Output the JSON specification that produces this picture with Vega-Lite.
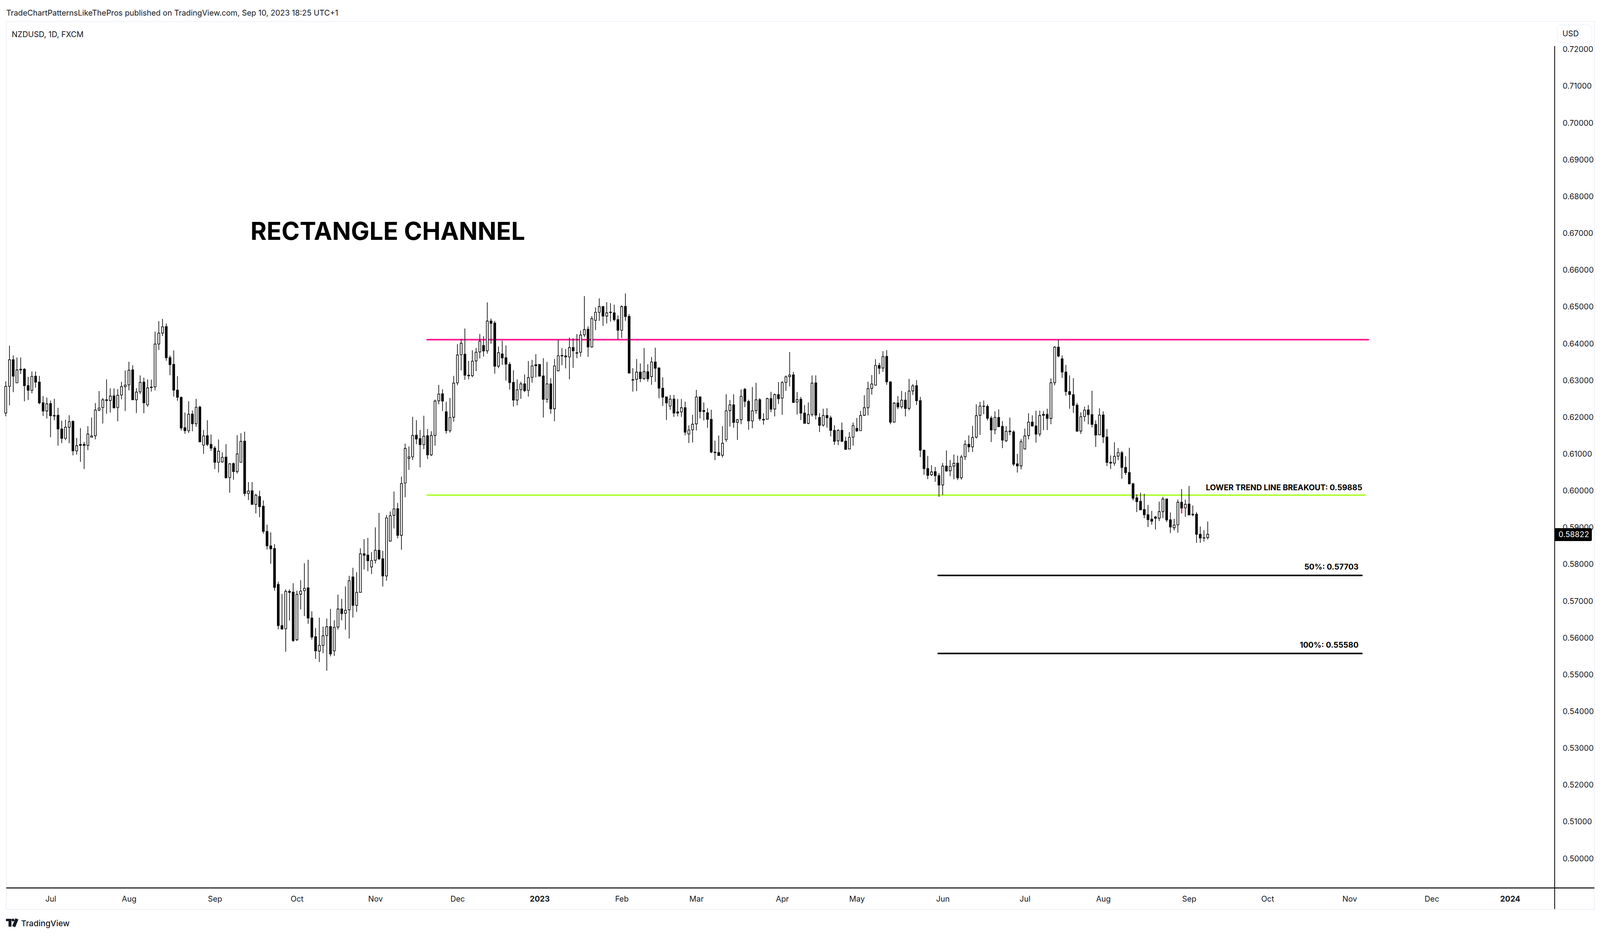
{
"$schema":"https://vega.github.io/schema/vega-lite/v6.json",
"width":"container","height":2218,
"autosize":{"type":"fit-x","contains":"padding"},
"padding":{"left":11,"top":24,"right":9,"bottom":13},
"background":"#ffffff",
"config":{"view":{"stroke":null},"font":"Inter"},
"datasets":{
"candles":[
{"bar":-1,"open":0.62118,"high":0.62978,"low":0.6203,"close":0.62843},
{"bar":0,"open":0.62843,"high":0.63947,"low":0.62328,"close":0.63567},
{"bar":1,"open":0.63567,"high":0.63683,"low":0.62687,"close":0.6312},
{"bar":2,"open":0.62938,"high":0.63628,"low":0.62938,"close":0.6329},
{"bar":3,"open":0.6329,"high":0.63628,"low":0.63181,"close":0.6331},
{"bar":4,"open":0.6331,"high":0.63337,"low":0.62436,"close":0.62863},
{"bar":5,"open":0.62863,"high":0.631,"low":0.6247,"close":0.62734},
{"bar":6,"open":0.62734,"high":0.63249,"low":0.62653,"close":0.63114},
{"bar":7,"open":0.6312,"high":0.63249,"low":0.62809,"close":0.62958},
{"bar":8,"open":0.62958,"high":0.63127,"low":0.62355,"close":0.62396},
{"bar":9,"open":0.62396,"high":0.62579,"low":0.62037,"close":0.62172},
{"bar":10,"open":0.62172,"high":0.62538,"low":0.61969,"close":0.62368},
{"bar":11,"open":0.62375,"high":0.62457,"low":0.6146,"close":0.62043},
{"bar":12,"open":0.6205,"high":0.62504,"low":0.61921,"close":0.62037},
{"bar":13,"open":0.62057,"high":0.6226,"low":0.6123,"close":0.61684},
{"bar":14,"open":0.61684,"high":0.61908,"low":0.61298,"close":0.61427},
{"bar":15,"open":0.61427,"high":0.61935,"low":0.6138,"close":0.61732},
{"bar":16,"open":0.61732,"high":0.62057,"low":0.61298,"close":0.61881},
{"bar":17,"open":0.61888,"high":0.61921,"low":0.60966,"close":0.61088},
{"bar":18,"open":0.61088,"high":0.6144,"low":0.60987,"close":0.6123},
{"bar":19,"open":0.61264,"high":0.61705,"low":0.6079,"close":0.61237},
{"bar":20,"open":0.61264,"high":0.61332,"low":0.60594,"close":0.61237},
{"bar":21,"open":0.61237,"high":0.61759,"low":0.61109,"close":0.61549},
{"bar":22,"open":0.6146,"high":0.61996,"low":0.6146,"close":0.61495},
{"bar":23,"open":0.61501,"high":0.62389,"low":0.614,"close":0.62199},
{"bar":24,"open":0.62199,"high":0.62714,"low":0.62165,"close":0.62253},
{"bar":25,"open":0.62267,"high":0.62524,"low":0.61833,"close":0.62477},
{"bar":26,"open":0.62477,"high":0.63032,"low":0.62098,"close":0.62457},
{"bar":27,"open":0.62457,"high":0.62788,"low":0.62131,"close":0.62579},
{"bar":28,"open":0.62585,"high":0.62788,"low":0.6224,"close":0.6226},
{"bar":29,"open":0.62267,"high":0.62768,"low":0.61894,"close":0.62599},
{"bar":30,"open":0.62606,"high":0.62965,"low":0.6249,"close":0.62836},
{"bar":31,"open":0.62836,"high":0.63276,"low":0.62172,"close":0.62877},
{"bar":32,"open":0.62883,"high":0.63513,"low":0.62734,"close":0.63283},
{"bar":33,"open":0.6329,"high":0.63418,"low":0.62477,"close":0.62477},
{"bar":34,"open":0.62477,"high":0.62795,"low":0.62118,"close":0.62687},
{"bar":35,"open":0.62694,"high":0.6314,"low":0.62633,"close":0.62951},
{"bar":36,"open":0.62958,"high":0.6308,"low":0.62111,"close":0.62396},
{"bar":37,"open":0.62341,"high":0.63032,"low":0.62287,"close":0.62802},
{"bar":38,"open":0.62822,"high":0.63026,"low":0.627,"close":0.62809},
{"bar":39,"open":0.62829,"high":0.64333,"low":0.62734,"close":0.63994},
{"bar":40,"open":0.63994,"high":0.64618,"low":0.63832,"close":0.64292},
{"bar":41,"open":0.64292,"high":0.64678,"low":0.64211,"close":0.64462},
{"bar":42,"open":0.64468,"high":0.6455,"low":0.6354,"close":0.63622},
{"bar":43,"open":0.63622,"high":0.63683,"low":0.63147,"close":0.63432},
{"bar":44,"open":0.63439,"high":0.63818,"low":0.62565,"close":0.62741},
{"bar":45,"open":0.62741,"high":0.6312,"low":0.6245,"close":0.62545},
{"bar":46,"open":0.62545,"high":0.62565,"low":0.61644,"close":0.61711},
{"bar":47,"open":0.61718,"high":0.62131,"low":0.61556,"close":0.61637},
{"bar":48,"open":0.61637,"high":0.62436,"low":0.61576,"close":0.62084},
{"bar":49,"open":0.62091,"high":0.62186,"low":0.61623,"close":0.61827},
{"bar":50,"open":0.61827,"high":0.62504,"low":0.61745,"close":0.62274},
{"bar":51,"open":0.6228,"high":0.62314,"low":0.61332,"close":0.61332},
{"bar":52,"open":0.61244,"high":0.61657,"low":0.61007,"close":0.61495},
{"bar":53,"open":0.61501,"high":0.61921,"low":0.61217,"close":0.61264},
{"bar":54,"open":0.61264,"high":0.61535,"low":0.61088,"close":0.61163},
{"bar":55,"open":0.61163,"high":0.61217,"low":0.60594,"close":0.60777},
{"bar":56,"open":0.60777,"high":0.614,"low":0.60499,"close":0.61081},
{"bar":57,"open":0.6079,"high":0.61047,"low":0.60763,"close":0.60912},
{"bar":58,"open":0.60919,"high":0.61271,"low":0.60336,"close":0.60357},
{"bar":59,"open":0.60363,"high":0.60756,"low":0.5995,"close":0.60736},
{"bar":60,"open":0.60743,"high":0.6077,"low":0.60303,"close":0.60526},
{"bar":61,"open":0.60526,"high":0.61515,"low":0.60472,"close":0.61007},
{"bar":62,"open":0.60777,"high":0.61569,"low":0.60777,"close":0.61346},
{"bar":63,"open":0.61352,"high":0.6161,"low":0.59855,"close":0.5993},
{"bar":64,"open":0.5993,"high":0.60241,"low":0.59754,"close":0.59998},
{"bar":65,"open":0.60004,"high":0.60241,"low":0.59632,"close":0.59632},
{"bar":66,"open":0.59632,"high":0.59923,"low":0.59388,"close":0.59882},
{"bar":67,"open":0.59848,"high":0.60004,"low":0.59286,"close":0.59571},
{"bar":68,"open":0.59584,"high":0.5974,"low":0.58839,"close":0.589},
{"bar":69,"open":0.589,"high":0.59083,"low":0.58406,"close":0.58507},
{"bar":70,"open":0.58507,"high":0.58873,"low":0.5802,"close":0.58426},
{"bar":71,"open":0.58433,"high":0.58555,"low":0.57288,"close":0.57376},
{"bar":72,"open":0.57457,"high":0.57532,"low":0.56238,"close":0.56339},
{"bar":73,"open":0.56339,"high":0.572,"low":0.56224,"close":0.56245},
{"bar":74,"open":0.56252,"high":0.57322,"low":0.55628,"close":0.57268},
{"bar":75,"open":0.57268,"high":0.57322,"low":0.56475,"close":0.57241},
{"bar":76,"open":0.57247,"high":0.57491,"low":0.55893,"close":0.55933},
{"bar":77,"open":0.55954,"high":0.57288,"low":0.5592,"close":0.57186},
{"bar":78,"open":0.57193,"high":0.57572,"low":0.5678,"close":0.57275},
{"bar":79,"open":0.57288,"high":0.58033,"low":0.56597,"close":0.57349},
{"bar":80,"open":0.57363,"high":0.58128,"low":0.56387,"close":0.56543},
{"bar":81,"open":0.56543,"high":0.56726,"low":0.5596,"close":0.56028},
{"bar":82,"open":0.56035,"high":0.56272,"low":0.55432,"close":0.55649},
{"bar":83,"open":0.55645,"high":0.56555,"low":0.55348,"close":0.55801},
{"bar":84,"open":0.55798,"high":0.56311,"low":0.55589,"close":0.56062},
{"bar":85,"open":0.56069,"high":0.56529,"low":0.55111,"close":0.56306},
{"bar":86,"open":0.56313,"high":0.5679,"low":0.555,"close":0.55567},
{"bar":87,"open":0.55649,"high":0.56482,"low":0.55513,"close":0.56292},
{"bar":88,"open":0.56299,"high":0.5718,"low":0.56231,"close":0.5679},
{"bar":89,"open":0.5679,"high":0.57064,"low":0.56482,"close":0.56665},
{"bar":90,"open":0.56672,"high":0.57403,"low":0.56224,"close":0.56753},
{"bar":91,"open":0.56766,"high":0.57694,"low":0.55987,"close":0.57559},
{"bar":92,"open":0.57661,"high":0.57911,"low":0.56557,"close":0.56888},
{"bar":93,"open":0.56888,"high":0.57789,"low":0.56712,"close":0.57241},
{"bar":94,"open":0.57241,"high":0.5844,"low":0.57241,"close":0.58291},
{"bar":95,"open":0.58291,"high":0.5869,"low":0.57864,"close":0.5825},
{"bar":96,"open":0.58257,"high":0.58724,"low":0.57816,"close":0.58101},
{"bar":97,"open":0.57932,"high":0.58338,"low":0.57742,"close":0.58108},
{"bar":98,"open":0.58115,"high":0.59009,"low":0.58026,"close":0.58385},
{"bar":99,"open":0.58385,"high":0.59402,"low":0.58121,"close":0.58155},
{"bar":100,"open":0.58155,"high":0.58372,"low":0.57403,"close":0.57688},
{"bar":101,"open":0.57688,"high":0.59347,"low":0.57559,"close":0.59266},
{"bar":102,"open":0.58636,"high":0.59442,"low":0.58622,"close":0.59327},
{"bar":103,"open":0.59334,"high":0.59984,"low":0.58981,"close":0.5951},
{"bar":104,"open":0.59517,"high":0.59672,"low":0.58711,"close":0.58792},
{"bar":105,"open":0.58792,"high":0.6039,"low":0.58399,"close":0.60201},
{"bar":106,"open":0.60214,"high":0.61285,"low":0.59828,"close":0.61156},
{"bar":107,"open":0.60885,"high":0.6121,"low":0.60573,"close":0.60926},
{"bar":108,"open":0.60926,"high":0.62016,"low":0.60838,"close":0.61508},
{"bar":109,"open":0.61515,"high":0.61921,"low":0.61271,"close":0.61413},
{"bar":110,"open":0.6142,"high":0.61657,"low":0.60641,"close":0.61258},
{"bar":111,"open":0.61258,"high":0.62043,"low":0.61136,"close":0.61488},
{"bar":112,"open":0.61501,"high":0.61684,"low":0.60865,"close":0.6098},
{"bar":113,"open":0.6098,"high":0.61623,"low":0.60946,"close":0.61508},
{"bar":114,"open":0.61508,"high":0.62484,"low":0.6123,"close":0.62443},
{"bar":115,"open":0.6245,"high":0.62883,"low":0.62355,"close":0.62633},
{"bar":116,"open":0.62639,"high":0.62761,"low":0.62172,"close":0.62443},
{"bar":117,"open":0.62152,"high":0.62423,"low":0.61556,"close":0.61637},
{"bar":118,"open":0.61637,"high":0.62524,"low":0.61583,"close":0.61996},
{"bar":119,"open":0.62003,"high":0.63127,"low":0.61881,"close":0.62931},
{"bar":120,"open":0.62938,"high":0.63987,"low":0.6287,"close":0.63696},
{"bar":121,"open":0.63703,"high":0.6413,"low":0.63276,"close":0.64015},
{"bar":122,"open":0.63717,"high":0.64414,"low":0.63019,"close":0.63147},
{"bar":123,"open":0.63147,"high":0.63534,"low":0.63032,"close":0.63127},
{"bar":124,"open":0.63134,"high":0.63825,"low":0.63093,"close":0.63527},
{"bar":125,"open":0.63534,"high":0.63886,"low":0.63256,"close":0.63771},
{"bar":126,"open":0.63778,"high":0.64265,"low":0.63601,"close":0.64069},
{"bar":127,"open":0.63954,"high":0.64204,"low":0.63649,"close":0.63805},
{"bar":128,"open":0.63811,"high":0.65126,"low":0.6373,"close":0.64618},
{"bar":129,"open":0.64618,"high":0.64685,"low":0.64001,"close":0.64557},
{"bar":130,"open":0.64563,"high":0.64624,"low":0.63188,"close":0.63391},
{"bar":131,"open":0.63391,"high":0.63927,"low":0.63337,"close":0.63757},
{"bar":132,"open":0.63723,"high":0.64082,"low":0.63425,"close":0.63615},
{"bar":133,"open":0.63622,"high":0.63954,"low":0.62998,"close":0.63445},
{"bar":134,"open":0.63439,"high":0.635,"low":0.62755,"close":0.62944},
{"bar":135,"open":0.62951,"high":0.63283,"low":0.62294,"close":0.6247},
{"bar":136,"open":0.6247,"high":0.63032,"low":0.62328,"close":0.62748},
{"bar":137,"open":0.62755,"high":0.62971,"low":0.62504,"close":0.6291},
{"bar":138,"open":0.6291,"high":0.63168,"low":0.62687,"close":0.62727},
{"bar":139,"open":0.62734,"high":0.63534,"low":0.62565,"close":0.6308},
{"bar":140,"open":0.63087,"high":0.63561,"low":0.62944,"close":0.63398},
{"bar":141,"open":0.63432,"high":0.63717,"low":0.63087,"close":0.63405},
{"bar":142,"open":0.63439,"high":0.63439,"low":0.63107,"close":0.6312},
{"bar":143,"open":0.63127,"high":0.63608,"low":0.61996,"close":0.6249},
{"bar":144,"open":0.6249,"high":0.63507,"low":0.62396,"close":0.6291},
{"bar":145,"open":0.6291,"high":0.63066,"low":0.62098,"close":0.62233},
{"bar":146,"open":0.62233,"high":0.63588,"low":0.61894,"close":0.63398},
{"bar":147,"open":0.63263,"high":0.64103,"low":0.63263,"close":0.63676},
{"bar":148,"open":0.63683,"high":0.63886,"low":0.63418,"close":0.6367},
{"bar":149,"open":0.6367,"high":0.63859,"low":0.6333,"close":0.63642},
{"bar":150,"open":0.63642,"high":0.6417,"low":0.63032,"close":0.63899},
{"bar":151,"open":0.63899,"high":0.6415,"low":0.63344,"close":0.63811},
{"bar":152,"open":0.63757,"high":0.64265,"low":0.63608,"close":0.63744},
{"bar":153,"open":0.63771,"high":0.6436,"low":0.63649,"close":0.64238},
{"bar":154,"open":0.64245,"high":0.65295,"low":0.64184,"close":0.64387},
{"bar":155,"open":0.64394,"high":0.64475,"low":0.63642,"close":0.63913},
{"bar":156,"open":0.63913,"high":0.64753,"low":0.63893,"close":0.64685},
{"bar":157,"open":0.64638,"high":0.6499,"low":0.64374,"close":0.64855},
{"bar":158,"open":0.64855,"high":0.65234,"low":0.64624,"close":0.6501},
{"bar":159,"open":0.6501,"high":0.65031,"low":0.64489,"close":0.64753},
{"bar":160,"open":0.64753,"high":0.65132,"low":0.6455,"close":0.64841},
{"bar":161,"open":0.64861,"high":0.65105,"low":0.64604,"close":0.64848},
{"bar":162,"open":0.64841,"high":0.65065,"low":0.6461,"close":0.64658},
{"bar":163,"open":0.64658,"high":0.64773,"low":0.64116,"close":0.64367},
{"bar":164,"open":0.64367,"high":0.65044,"low":0.64157,"close":0.6501},
{"bar":165,"open":0.65017,"high":0.65369,"low":0.64624,"close":0.64739},
{"bar":166,"open":0.64746,"high":0.6481,"low":0.63202,"close":0.63202},
{"bar":167,"open":0.63026,"high":0.63337,"low":0.627,"close":0.63012},
{"bar":168,"open":0.63032,"high":0.63588,"low":0.62714,"close":0.63229},
{"bar":169,"open":0.63229,"high":0.63466,"low":0.62958,"close":0.63053},
{"bar":170,"open":0.63053,"high":0.63886,"low":0.63019,"close":0.63242},
{"bar":171,"open":0.6324,"high":0.63444,"low":0.6297,"close":0.63051},
{"bar":172,"open":0.6311,"high":0.63643,"low":0.62885,"close":0.63506},
{"bar":173,"open":0.63506,"high":0.63895,"low":0.62965,"close":0.63335},
{"bar":174,"open":0.6334,"high":0.63364,"low":0.62519,"close":0.62794},
{"bar":175,"open":0.62794,"high":0.63088,"low":0.6231,"close":0.62548},
{"bar":176,"open":0.62557,"high":0.62557,"low":0.61927,"close":0.62391},
{"bar":177,"open":0.62306,"high":0.62609,"low":0.62206,"close":0.62496},
{"bar":178,"open":0.62496,"high":0.62609,"low":0.62012,"close":0.62116},
{"bar":179,"open":0.62149,"high":0.625,"low":0.62026,"close":0.62116},
{"bar":180,"open":0.62149,"high":0.625,"low":0.62012,"close":0.62263},
{"bar":181,"open":0.62263,"high":0.62429,"low":0.6151,"close":0.61595},
{"bar":182,"open":0.61547,"high":0.61784,"low":0.61301,"close":0.61656},
{"bar":183,"open":0.61661,"high":0.62069,"low":0.61315,"close":0.61813},
{"bar":184,"open":0.61822,"high":0.62747,"low":0.61642,"close":0.62553},
{"bar":185,"open":0.62557,"high":0.62557,"low":0.61969,"close":0.62159},
{"bar":186,"open":0.62187,"high":0.62406,"low":0.61917,"close":0.62159},
{"bar":187,"open":0.62126,"high":0.62249,"low":0.61718,"close":0.61946},
{"bar":188,"open":0.61946,"high":0.62206,"low":0.61026,"close":0.61054},
{"bar":189,"open":0.61054,"high":0.61367,"low":0.60836,"close":0.6104},
{"bar":190,"open":0.61045,"high":0.61505,"low":0.6095,"close":0.60964},
{"bar":191,"open":0.60969,"high":0.6176,"low":0.60907,"close":0.61296},
{"bar":192,"open":0.61396,"high":0.62628,"low":0.61334,"close":0.62178},
{"bar":193,"open":0.62183,"high":0.62472,"low":0.61747,"close":0.62339},
{"bar":194,"open":0.62339,"high":0.62628,"low":0.61718,"close":0.6186},
{"bar":195,"open":0.61865,"high":0.61955,"low":0.61386,"close":0.61936},
{"bar":196,"open":0.61936,"high":0.62757,"low":0.61813,"close":0.62572},
{"bar":197,"open":0.62761,"high":0.628,"low":0.62278,"close":0.62434},
{"bar":198,"open":0.62434,"high":0.62481,"low":0.61661,"close":0.61903},
{"bar":199,"open":0.61903,"high":0.62823,"low":0.61704,"close":0.62178},
{"bar":200,"open":0.62183,"high":0.62937,"low":0.62097,"close":0.62477},
{"bar":201,"open":0.62477,"high":0.62524,"low":0.61908,"close":0.61965},
{"bar":202,"open":0.61946,"high":0.62112,"low":0.61803,"close":0.61927},
{"bar":203,"open":0.6195,"high":0.62534,"low":0.61946,"close":0.6251},
{"bar":204,"open":0.6251,"high":0.62695,"low":0.6214,"close":0.62221},
{"bar":205,"open":0.62225,"high":0.62647,"low":0.62026,"close":0.62619},
{"bar":206,"open":0.62619,"high":0.6296,"low":0.62363,"close":0.62505},
{"bar":207,"open":0.62524,"high":0.62989,"low":0.62069,"close":0.62946},
{"bar":208,"open":0.62946,"high":0.63141,"low":0.62723,"close":0.63103},
{"bar":209,"open":0.63107,"high":0.63776,"low":0.62842,"close":0.6315},
{"bar":210,"open":0.63155,"high":0.63235,"low":0.62391,"close":0.62406},
{"bar":211,"open":0.62415,"high":0.6269,"low":0.62078,"close":0.62481},
{"bar":212,"open":0.62491,"high":0.62557,"low":0.61927,"close":0.62116},
{"bar":213,"open":0.62116,"high":0.62335,"low":0.61837,"close":0.61837},
{"bar":214,"open":0.61837,"high":0.62406,"low":0.61813,"close":0.62074},
{"bar":215,"open":0.62078,"high":0.63141,"low":0.62026,"close":0.62932},
{"bar":216,"open":0.62937,"high":0.63141,"low":0.61941,"close":0.62059},
{"bar":217,"open":0.61998,"high":0.62112,"low":0.61599,"close":0.61784},
{"bar":218,"open":0.61789,"high":0.62235,"low":0.61747,"close":0.6205},
{"bar":219,"open":0.6205,"high":0.62249,"low":0.61718,"close":0.61988},
{"bar":220,"open":0.61988,"high":0.62045,"low":0.61481,"close":0.61647},
{"bar":221,"open":0.61647,"high":0.61784,"low":0.61253,"close":0.61348},
{"bar":222,"open":0.61362,"high":0.61675,"low":0.61244,"close":0.61647},
{"bar":223,"open":0.61647,"high":0.6186,"low":0.61329,"close":0.61348},
{"bar":224,"open":0.61353,"high":0.61471,"low":0.61111,"close":0.6113},
{"bar":225,"open":0.61139,"high":0.61599,"low":0.61135,"close":0.61457},
{"bar":226,"open":0.61462,"high":0.6186,"low":0.6123,"close":0.61775},
{"bar":227,"open":0.617,"high":0.61984,"low":0.61599,"close":0.61633},
{"bar":228,"open":0.61637,"high":0.62173,"low":0.61628,"close":0.6205},
{"bar":229,"open":0.62055,"high":0.626,"low":0.6204,"close":0.62263},
{"bar":230,"open":0.62263,"high":0.6297,"low":0.62055,"close":0.6278},
{"bar":231,"open":0.62785,"high":0.6315,"low":0.62619,"close":0.62908},
{"bar":232,"open":0.62875,"high":0.63582,"low":0.6287,"close":0.63411},
{"bar":233,"open":0.63411,"high":0.63482,"low":0.63174,"close":0.63335},
{"bar":234,"open":0.6334,"high":0.638,"low":0.63235,"close":0.63653},
{"bar":235,"open":0.63658,"high":0.63828,"low":0.62885,"close":0.62965},
{"bar":236,"open":0.62965,"high":0.62984,"low":0.61813,"close":0.6187},
{"bar":237,"open":0.6187,"high":0.62415,"low":0.6186,"close":0.62387},
{"bar":238,"open":0.62391,"high":0.62581,"low":0.62225,"close":0.62282},
{"bar":239,"open":0.62287,"high":0.62719,"low":0.62235,"close":0.62467},
{"bar":240,"open":0.62467,"high":0.62685,"low":0.62026,"close":0.6224},
{"bar":241,"open":0.62244,"high":0.63046,"low":0.62192,"close":0.62714},
{"bar":242,"open":0.62719,"high":0.62904,"low":0.62609,"close":0.62856},
{"bar":243,"open":0.62861,"high":0.63013,"low":0.62335,"close":0.62453},
{"bar":244,"open":0.62453,"high":0.62557,"low":0.6092,"close":0.61106},
{"bar":245,"open":0.61106,"high":0.61125,"low":0.60438,"close":0.60604},
{"bar":246,"open":0.60608,"high":0.6095,"low":0.60319,"close":0.60423},
{"bar":247,"open":0.60438,"high":0.60699,"low":0.60405,"close":0.60518},
{"bar":248,"open":0.60523,"high":0.60651,"low":0.60248,"close":0.60414},
{"bar":249,"open":0.60414,"high":0.60485,"low":0.5984,"close":0.60158},
{"bar":250,"open":0.60163,"high":0.6076,"low":0.59888,"close":0.60675},
{"bar":251,"open":0.60675,"high":0.61102,"low":0.60523,"close":0.60542},
{"bar":252,"open":0.60547,"high":0.60841,"low":0.604,"close":0.60665},
{"bar":253,"open":0.60675,"high":0.60988,"low":0.60314,"close":0.60751},
{"bar":254,"open":0.60755,"high":0.6096,"low":0.60295,"close":0.60352},
{"bar":255,"open":0.60357,"high":0.60978,"low":0.60305,"close":0.60921},
{"bar":256,"open":0.60931,"high":0.61377,"low":0.60841,"close":0.61267},
{"bar":257,"open":0.61267,"high":0.6151,"low":0.61054,"close":0.61196},
{"bar":258,"open":0.61197,"high":0.6177,"low":0.61059,"close":0.61453},
{"bar":259,"open":0.61462,"high":0.62354,"low":0.61424,"close":0.62045},
{"bar":260,"open":0.62055,"high":0.6242,"low":0.61524,"close":0.62306},
{"bar":261,"open":0.62306,"high":0.62458,"low":0.62088,"close":0.62297},
{"bar":262,"open":0.62297,"high":0.62354,"low":0.61913,"close":0.61974},
{"bar":263,"open":0.61979,"high":0.6204,"low":0.61329,"close":0.61657},
{"bar":264,"open":0.61661,"high":0.62164,"low":0.61538,"close":0.61998},
{"bar":265,"open":0.61998,"high":0.62216,"low":0.61732,"close":0.61747},
{"bar":266,"open":0.61756,"high":0.61898,"low":0.61163,"close":0.61381},
{"bar":267,"open":0.61363,"high":0.6176,"low":0.61329,"close":0.61623},
{"bar":268,"open":0.61628,"high":0.61993,"low":0.61514,"close":0.61609},
{"bar":269,"open":0.61604,"high":0.61647,"low":0.60675,"close":0.60727},
{"bar":270,"open":0.60737,"high":0.61007,"low":0.605,"close":0.6068},
{"bar":271,"open":0.6068,"high":0.61405,"low":0.60585,"close":0.61339},
{"bar":272,"open":0.6114,"high":0.61695,"low":0.6113,"close":0.61495},
{"bar":273,"open":0.61505,"high":0.62112,"low":0.61401,"close":0.6187},
{"bar":274,"open":0.6187,"high":0.62055,"low":0.61747,"close":0.61766},
{"bar":275,"open":0.61766,"high":0.62183,"low":0.61315,"close":0.61543},
{"bar":276,"open":0.61547,"high":0.62183,"low":0.61481,"close":0.6205},
{"bar":277,"open":0.62083,"high":0.62173,"low":0.61652,"close":0.62055},
{"bar":278,"open":0.62083,"high":0.62235,"low":0.61652,"close":0.6197},
{"bar":279,"open":0.6197,"high":0.6306,"low":0.61813,"close":0.62942},
{"bar":280,"open":0.62942,"high":0.63937,"low":0.62871,"close":0.63909},
{"bar":281,"open":0.63909,"high":0.64108,"low":0.63634,"close":0.63667},
{"bar":282,"open":0.63591,"high":0.63681,"low":0.63074,"close":0.63231},
{"bar":283,"open":0.63231,"high":0.63425,"low":0.62586,"close":0.627},
{"bar":284,"open":0.627,"high":0.63141,"low":0.62235,"close":0.6262},
{"bar":285,"open":0.62615,"high":0.63065,"low":0.62121,"close":0.62325},
{"bar":286,"open":0.6233,"high":0.62392,"low":0.61623,"close":0.61623},
{"bar":287,"open":0.61628,"high":0.62136,"low":0.61552,"close":0.62017},
{"bar":288,"open":0.62022,"high":0.62292,"low":0.61889,"close":0.62197},
{"bar":289,"open":0.62202,"high":0.62335,"low":0.61813,"close":0.62074},
{"bar":290,"open":0.62074,"high":0.62724,"low":0.61728,"close":0.61808},
{"bar":291,"open":0.61808,"high":0.61917,"low":0.61197,"close":0.61519},
{"bar":292,"open":0.61524,"high":0.62245,"low":0.61519,"close":0.6206},
{"bar":293,"open":0.62064,"high":0.62164,"low":0.61301,"close":0.61467},
{"bar":294,"open":0.61467,"high":0.61685,"low":0.60675,"close":0.60775},
{"bar":295,"open":0.6078,"high":0.60964,"low":0.60594,"close":0.60756},
{"bar":296,"open":0.60756,"high":0.61325,"low":0.60685,"close":0.60941},
{"bar":297,"open":0.60945,"high":0.61163,"low":0.60836,"close":0.6104},
{"bar":298,"open":0.6104,"high":0.61088,"low":0.60334,"close":0.60637},
{"bar":299,"open":0.60637,"high":0.60941,"low":0.60433,"close":0.605},
{"bar":300,"open":0.605,"high":0.61173,"low":0.60191,"close":0.60191},
{"bar":301,"open":0.60191,"high":0.60224,"low":0.59741,"close":0.59798},
{"bar":302,"open":0.59812,"high":0.59907,"low":0.59423,"close":0.59708},
{"bar":303,"open":0.59717,"high":0.59954,"low":0.59475,"close":0.59485},
{"bar":304,"open":0.59494,"high":0.59921,"low":0.59257,"close":0.59352},
{"bar":305,"open":0.59352,"high":0.5962,"low":0.5902,"close":0.59219},
{"bar":306,"open":0.59233,"high":0.59456,"low":0.59082,"close":0.59176},
{"bar":307,"open":0.59291,"high":0.59324,"low":0.58954,"close":0.59257},
{"bar":308,"open":0.59257,"high":0.59708,"low":0.59181,"close":0.59437},
{"bar":309,"open":0.59437,"high":0.5984,"low":0.59262,"close":0.59779},
{"bar":310,"open":0.59779,"high":0.59788,"low":0.59153,"close":0.5921},
{"bar":311,"open":0.59214,"high":0.59414,"low":0.58854,"close":0.5902},
{"bar":312,"open":0.58996,"high":0.59243,"low":0.58925,"close":0.59072},
{"bar":313,"open":0.59077,"high":0.59765,"low":0.58864,"close":0.59693},
{"bar":314,"open":0.59693,"high":0.60049,"low":0.5939,"close":0.59532},
{"bar":315,"open":0.59537,"high":0.59765,"low":0.59295,"close":0.59637},
{"bar":316,"open":0.59641,"high":0.60134,"low":0.59338,"close":0.59347},
{"bar":317,"open":0.59366,"high":0.59603,"low":0.59309,"close":0.59352},
{"bar":318,"open":0.59366,"high":0.59423,"low":0.58589,"close":0.58821},
{"bar":319,"open":0.58821,"high":0.5903,"low":0.58589,"close":0.58717},
{"bar":320,"open":0.58726,"high":0.5893,"low":0.58622,"close":0.58717},
{"bar":321,"open":0.58731,"high":0.59167,"low":0.58679,"close":0.58822}
]},
"encoding":{
"x":{"field":"bar","type":"quantitative","title":null,
"scale":{"domain":[-0.867,413.95],"nice":false,"zero":false},
"axis":{"values":[11,32,55,77,98,120,142,164,184,207,227,250,272,293,316,337,359,381,402],
"labelExpr":"{'11':'Jul','32':'Aug','55':'Sep','77':'Oct','98':'Nov','120':'Dec','142':'2023','164':'Feb','184':'Mar','207':'Apr','227':'May','250':'Jun','272':'Jul','293':'Aug','316':'Sep','337':'Oct','359':'Nov','381':'Dec','402':'2024'}[datum.value]",
"grid":false,"domain":false,"ticks":false,"labelOverlap":false,"labelFlush":false,"labelBaseline":"middle","labelPadding":28,
"labelFont":"Inter","labelFontSize":{"expr":"24*windowSize()[0]/4950"},"labelColor":"#131722",
"labelFontWeight":{"condition":{"test":"datum.value==142||datum.value==402","value":"bold"},"value":"normal"}}},
"y":{"field":"price","type":"quantitative","title":null,
"scale":{"domain":[0.49205,0.72763],"nice":false,"zero":false},
"axis":{"orient":"right","values":[0.5,0.51,0.52,0.53,0.54,0.55,0.56,0.57,0.58,0.59,0.6,0.61,0.62,0.63,0.64,0.65,0.66,0.67,0.68,0.69,0.7,0.71,0.72],
"format":".5f","grid":false,"domain":false,"ticks":false,"labelOverlap":false,"labelFlush":false,"labelAlign":"left","labelBaseline":"middle","labelPadding":15,
"labelFont":"Inter","labelFontSize":{"expr":"24*windowSize()[0]/4950"},"labelColor":"#131722"}}
},
"layer":[
{"data":{"values":[{"bar":-0.867,"bar2":424.6,"price":0.72763,"price2":0.48621}]},
 "mark":{"type":"rect","fillOpacity":0,"stroke":"#f0f3fa","strokeWidth":2.5},
 "encoding":{"x2":{"field":"bar2"},"y2":{"field":"price2"}}},
{"data":{"values":[
 {"level":"resistance","bar":111.87,"bar2":364.04,"price":0.64112},
 {"level":"breakout","bar":111.87,"bar2":363.2,"price":0.59885},
 {"level":"fifty","bar":248.8,"bar2":362.3,"price":0.57703},
 {"level":"hundred","bar":248.8,"bar2":362.3,"price":0.5558}]},
 "mark":{"type":"rule","strokeWidth":4,"strokeCap":"round"},
 "encoding":{"x2":{"field":"bar2"},
 "color":{"field":"level","type":"nominal","legend":null,
 "scale":{"domain":["resistance","breakout","fifty","hundred"],"range":["#ff1493","#adff2f","#000000","#000000"]}}}},
{"data":{"name":"candles"},
 "mark":{"type":"rule","color":"#000000","strokeWidth":{"expr":"2*windowSize()[0]/4950"},"clip":true},
 "encoding":{"y":{"field":"low","type":"quantitative","title":null,
 "scale":{"domain":[0.49205,0.72763],"nice":false,"zero":false},
 "axis":{"orient":"right","values":[0.5,0.51,0.52,0.53,0.54,0.55,0.56,0.57,0.58,0.59,0.6,0.61,0.62,0.63,0.64,0.65,0.66,0.67,0.68,0.69,0.7,0.71,0.72],
"format":".5f","grid":false,"domain":false,"ticks":false,"labelOverlap":false,"labelFlush":false,"labelAlign":"left","labelBaseline":"middle","labelPadding":15,
"labelFont":"Inter","labelFontSize":{"expr":"24*windowSize()[0]/4950"},"labelColor":"#131722"}},"y2":{"field":"high"}}},
{"data":{"name":"candles"},
 "mark":{"type":"bar","size":{"expr":"6*windowSize()[0]/4950"},"stroke":"#000000","strokeWidth":{"expr":"2*windowSize()[0]/4950"},"clip":true},
 "encoding":{"y":{"field":"open","type":"quantitative","title":null,
 "scale":{"domain":[0.49205,0.72763],"nice":false,"zero":false},
 "axis":{"orient":"right","values":[0.5,0.51,0.52,0.53,0.54,0.55,0.56,0.57,0.58,0.59,0.6,0.61,0.62,0.63,0.64,0.65,0.66,0.67,0.68,0.69,0.7,0.71,0.72],
"format":".5f","grid":false,"domain":false,"ticks":false,"labelOverlap":false,"labelFlush":false,"labelAlign":"left","labelBaseline":"middle","labelPadding":15,
"labelFont":"Inter","labelFontSize":{"expr":"24*windowSize()[0]/4950"},"labelColor":"#131722"}},"y2":{"field":"close"},
 "fill":{"condition":{"test":"datum.close>datum.open","value":"#ffffff"},"value":"#000000"}}},
{"data":{"values":[{"bar":314,"price":0.59532,"price2":0.5939}]},
 "mark":{"type":"rule","color":"#e0245e","strokeWidth":{"expr":"4*windowSize()[0]/4950"}},
 "encoding":{"y2":{"field":"price2"}}},
{"data":{"values":[{"bar":-0.867,"bar2":424.6,"price":0.49205}]},
 "mark":{"type":"rule","color":"#000000","strokeWidth":2.5},
 "encoding":{"x2":{"field":"bar2"}}},
{"data":{"values":[{"bar":413.95,"price":0.72094,"price2":0.48632}]},
 "mark":{"type":"rule","color":"#000000","strokeWidth":2},
 "encoding":{"y2":{"field":"price2"}}},
{"data":{"values":[{"bar":413.95,"bar2":423.9,"price":0.58987,"price2":0.58637}]},
 "mark":{"type":"rect","fill":"#000000","cornerRadiusTopRight":3,"cornerRadiusBottomRight":3},
 "encoding":{"x2":{"field":"bar2"},"y2":{"field":"price2"}}},
{"data":{"values":[{"bar":414.64,"bar2":423.9,"price":0.72668,"price2":0.72179}]},
 "mark":{"type":"rect","fillOpacity":0,"stroke":"#f0f3fa","strokeWidth":2,"cornerRadius":8},
 "encoding":{"x2":{"field":"bar2"},"y2":{"field":"price2"}}},
{"data":{"values":[
 {"bar":-0.87,"price":0.72986,"label":"TradeChartPatternsLikeThePros published on TradingView.com, Sep 10, 2023 18:25 UTC+1"},
 {"bar":0.61,"price":0.72402,"label":"NZDUSD, 1D, FXCM"}]},
 "mark":{"type":"text","font":"Inter","fontSize":{"expr":"24*windowSize()[0]/4950"},"align":"left","baseline":"middle","color":"#131722"},
 "encoding":{"text":{"field":"label"}}},
{"data":{"values":[{"bar":418.2,"price":0.72422,"label":"USD"}]},
 "mark":{"type":"text","font":"Inter","fontSize":{"expr":"24*windowSize()[0]/4950"},"align":"center","baseline":"middle","color":"#131722"},
 "encoding":{"text":{"field":"label"}}},
{"data":{"values":[{"bar":3.12,"price":0.48228,"label":"TradingView"}]},
 "mark":{"type":"text","font":"Inter","fontSize":{"expr":"25*windowSize()[0]/4950"},"fontWeight":500,"align":"left","baseline":"middle","color":"#131722"},
 "encoding":{"text":{"field":"label"}}},
{"data":{"values":[{"bar":419.07,"price":0.58807,"label":"0.58822"}]},
 "mark":{"type":"text","font":"Inter","fontSize":{"expr":"24*windowSize()[0]/4950"},"align":"center","baseline":"middle","color":"#ffffff"},
 "encoding":{"text":{"field":"label"}}},
{"data":{"values":[{"bar":64.56,"price":0.66826,"label":"RECTANGLE CHANNEL"}]},
 "mark":{"type":"text","font":"Inter","fontSize":{"expr":"76*windowSize()[0]/4950"},"fontWeight":700,"align":"left","baseline":"alphabetic","color":"#000000"},
 "encoding":{"text":{"field":"label"}}},
{"data":{"values":[
 {"bar":362.4,"price":0.60081,"label":"LOWER TREND LINE BREAKOUT: 0.59885"},
 {"bar":361.4,"price":0.57925,"label":"50%: 0.57703"},
 {"bar":361.4,"price":0.55801,"label":"100%: 0.55580"}]},
 "mark":{"type":"text","font":"Inter","fontSize":{"expr":"24*windowSize()[0]/4950"},"fontWeight":700,"align":"right","baseline":"middle","color":"#000000"},
 "encoding":{"text":{"field":"label"}}},
{"data":{"values":[{"bar":-0.95,"bar2":0.52,"price":0.48366,"price2":0.48302},{"bar":-0.26,"bar2":0.52,"price":0.48366,"price2":0.48154}]},
 "mark":{"type":"rect","fill":"#131722"},
 "encoding":{"x2":{"field":"bar2"},"y2":{"field":"price2"}}},
{"data":{"values":[{"bar":0.95,"price":0.48334}]},
 "mark":{"type":"circle","size":50,"opacity":1,"color":"#131722"}},
{"data":{"values":[{"bar":1.99,"bar2":1.13,"price":0.48366,"price2":0.48154}]},
 "mark":{"type":"rule","color":"#131722","strokeWidth":{"expr":"10*windowSize()[0]/4950"}},
 "encoding":{"x2":{"field":"bar2"},"y2":{"field":"price2"}}}
]
}
